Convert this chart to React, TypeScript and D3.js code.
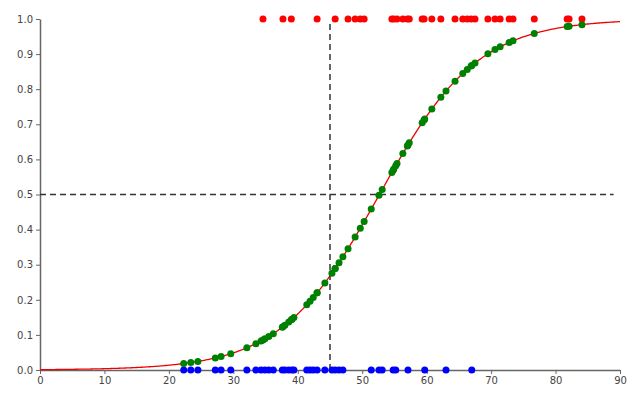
import * as d3 from 'd3';
import { useEffect, useRef } from 'react';

// x values of observations with outcome 1 (red) and outcome 0 (blue)
const positiveX = [
  34.6, 37.7, 39.0, 43.0, 45.8, 47.8, 48.9, 49.7, 50.3, 54.6, 54.9, 55.4, 56.3, 57.0, 57.3,
  59.3, 59.6, 60.8, 62.2, 64.4, 65.6, 66.3, 66.9, 67.5, 69.5, 70.6, 71.4, 72.8, 73.4, 76.7,
  81.8, 82.1, 84.1,
];
const negativeX = [
  22.3, 23.4, 24.5, 27.2, 28.1, 29.6, 32.1, 33.5, 34.3, 34.9, 35.5, 36.2, 37.6, 38.0, 38.6,
  39.1, 39.4, 41.4, 41.9, 42.4, 43.0, 44.2, 45.3, 45.8, 46.4, 47.0, 51.4, 52.6, 53.1, 54.8,
  55.2, 57.1, 59.7, 63.0, 67.0,
];
// fitted logistic model
const intercept = -6.9;
const slope = 0.131;
const threshold = 45;
const cutoff = 0.5;
const xTicks = [0, 10, 20, 30, 40, 50, 60, 70, 80, 90];
const yTicks = [0, 0.1, 0.2, 0.3, 0.4, 0.5, 0.6, 0.7, 0.8, 0.9, 1.0];

const W = 640;
const H = 400;

const App = () => {
  const svgRef = useRef<SVGSVGElement | null>(null);

  useEffect(() => {
    if (!svgRef.current) return;
    const root = d3.select(svgRef.current);
    root.selectAll('*').remove();

    const margin = { top: 19, right: 20, bottom: 30, left: 40 };
    const x = d3.scaleLinear().domain([0, 90]).range([margin.left, W - margin.right]);
    const y = d3.scaleLinear().domain([0, 1]).range([H - margin.bottom, margin.top]);
    const prob = (v: number) => 1 / (1 + Math.exp(-(intercept + slope * v)));

    const fontFamily = '"DejaVu Sans", sans-serif';

    // axes
    const xAxis = root.append('g')
      .attr('transform', `translate(0,${y(0)})`)
      .call(d3.axisBottom(x).tickValues(xTicks).tickFormat(d3.format('d')).tickSize(4).tickSizeOuter(0));
    const yAxis = root.append('g')
      .attr('transform', `translate(${x(0)},0)`)
      .call(d3.axisLeft(y).tickValues(yTicks).tickFormat(d3.format('.1f')).tickSize(4).tickSizeOuter(0));
    [xAxis, yAxis].forEach(a => {
      a.select('.domain').attr('stroke', '#666').attr('stroke-width', 1.5);
      a.selectAll('.tick line').attr('stroke', '#666');
      a.selectAll('.tick text')
        .attr('fill', '#444')
        .style('font-family', fontFamily)
        .style('font-size', '10px');
    });

    // curve
    const curvePts = d3.range(0, 90.01, 0.25).map(v => [v, prob(v)] as [number, number]);
    root.append('path')
      .datum(curvePts)
      .attr('fill', 'none')
      .attr('stroke', '#e00')
      .attr('stroke-width', 1.3)
      .attr('d', d3.line<[number, number]>().x(d => x(d[0])).y(d => y(d[1])));

    // reference lines
    root.append('line')
      .attr('x1', x(threshold)).attr('x2', x(threshold))
      .attr('y1', y(0)).attr('y2', y(1) + 2)
      .attr('stroke', '#333').attr('stroke-width', 1.5).attr('stroke-dasharray', '6,4');
    root.append('line')
      .attr('x1', x(0)).attr('x2', x(89))
      .attr('y1', y(cutoff)).attr('y2', y(cutoff))
      .attr('stroke', '#333').attr('stroke-width', 1.5).attr('stroke-dasharray', '6,4');

    const r = 3.5;
    // observed points
    root.append('g').selectAll('circle')
      .data(positiveX)
      .join('circle')
      .attr('cx', d => x(d)).attr('cy', y(1)).attr('r', r).attr('fill', '#f00');
    root.append('g').selectAll('circle')
      .data(negativeX)
      .join('circle')
      .attr('cx', d => x(d)).attr('cy', y(0)).attr('r', r).attr('fill', '#00f');

    // predicted probabilities
    root.append('g').selectAll('circle')
      .data([...negativeX, ...positiveX])
      .join('circle')
      .attr('cx', d => x(d)).attr('cy', d => y(prob(d))).attr('r', r).attr('fill', '#008000');
  }, []);

  return (
    <svg ref={svgRef} width={W} height={H} style={{ position: 'absolute', left: 0, top: 0 }}></svg>
  );
};

export default App;
